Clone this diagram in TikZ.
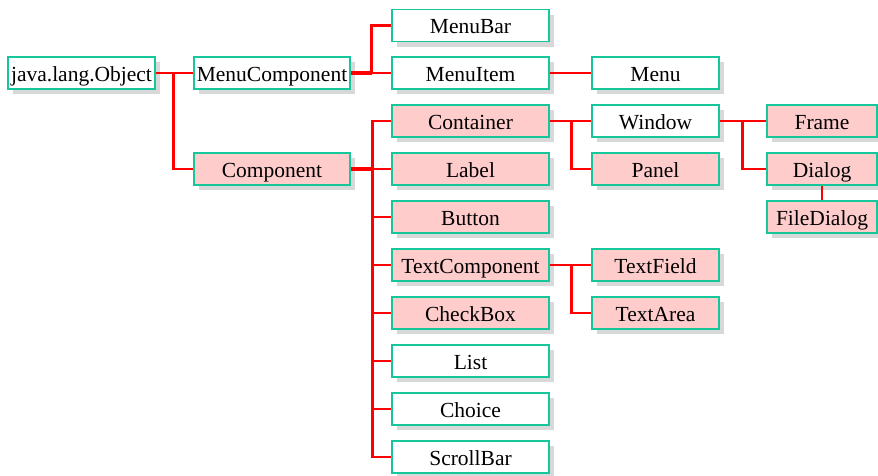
\documentclass[tikz,border=0pt]{standalone}
\usepackage{fontspec}
\setmainfont{Liberation Serif}
\usetikzlibrary{shadows}
\definecolor{boxline}{RGB}{20,200,155}
\definecolor{boxpink}{RGB}{255,204,204}
\definecolor{shade}{RGB}{216,216,216}
\begin{document}
\begin{tikzpicture}[x=1pt,y=-1pt,
  cls/.style={draw=boxline, line width=1.6pt, fill=white, minimum height=32pt,
    inner sep=0pt, text height=18pt, text depth=2pt, font=\fontsize{21.5}{23}\selectfont,
    drop shadow={shadow xshift=5pt, shadow yshift=-5pt, fill=shade, opacity=1}},
  pk/.style={cls, fill=boxpink},
  wa/.style={minimum width=157pt},
  wb/.style={minimum width=127pt},
  wc/.style={minimum width=110pt},
  link/.style={draw=red, line width=2.8pt},
  stub/.style={draw=red, line width=4.4pt}]
\useasboundingbox (0,0) rectangle (878,475);
% nodes
\node[cls, minimum width=147pt] (obj) at (81.5,73) {java.lang.Object};
\node[cls, minimum width=156pt] (mcomp) at (272,73) {MenuComponent};
\node[pk, minimum width=156pt] (comp) at (272,169) {Component};
\node[cls, wa] (mbar) at (470.5,25.5) {MenuBar};
\node[cls, wa] (mitem) at (470.5,73) {MenuItem};
\node[cls, wb] (menu) at (655.5,73) {Menu};
\node[pk, wa] (cont) at (470.5,121) {Container};
\node[pk, wa] (label) at (470.5,169) {Label};
\node[pk, wa] (button) at (470.5,217) {Button};
\node[pk, wa] (tcomp) at (470.5,265) {TextComponent};
\node[pk, wa] (check) at (470.5,313) {CheckBox};
\node[cls, wa] (list) at (470.5,361) {List};
\node[cls, wa] (choice) at (470.5,409) {Choice};
\node[cls, wa] (scroll) at (470.5,457) {ScrollBar};
\node[cls, wb] (window) at (655.5,121) {Window};
\node[pk, wb] (panel) at (655.5,169) {Panel};
\node[pk, wb] (tfield) at (655.5,265) {TextField};
\node[pk, wb] (tarea) at (655.5,313) {TextArea};
\node[pk, wc] (frame) at (822,121) {Frame};
\node[pk, wc] (dialog) at (822,169) {Dialog};
\node[pk, wc] (fdialog) at (822,217) {FileDialog};
% connectors
\draw[link] (obj.east) -- (mcomp.west);
\draw[link] (obj.east) ++(18,0) coordinate (j1) |- (comp.west);
\draw[stub] (mcomp.east) -- ++(21,0) coordinate (j2);
\draw[link] (j2) -- (mitem.west);
\draw[link] (j2) |- (mbar.west);
\draw[link] (mitem.east) -- (menu.west);
\draw[stub] (comp.east) -- ++(22,0) coordinate (j3);
\draw[link] (j3) -- (label.west);
\draw[link] (cont.west) -| (j3) |- (scroll.west);
\draw[link] (j3 |- button.west) -- (button.west);
\draw[link] (j3 |- tcomp.west) -- (tcomp.west);
\draw[link] (j3 |- check.west) -- (check.west);
\draw[link] (j3 |- list.west) -- (list.west);
\draw[link] (j3 |- choice.west) -- (choice.west);
\draw[link] (cont.east) -- (window.west);
\draw[link] (cont.east) ++(22,0) |- (panel.west);
\draw[link] (window.east) -- (frame.west);
\draw[link] (window.east) ++(23,0) |- (dialog.west);
\draw[link] (dialog.south) -- (fdialog.north);
\draw[link] (tcomp.east) -- (tfield.west);
\draw[link] (tcomp.east) ++(22,0) |- (tarea.west);
\end{tikzpicture}
\end{document}
